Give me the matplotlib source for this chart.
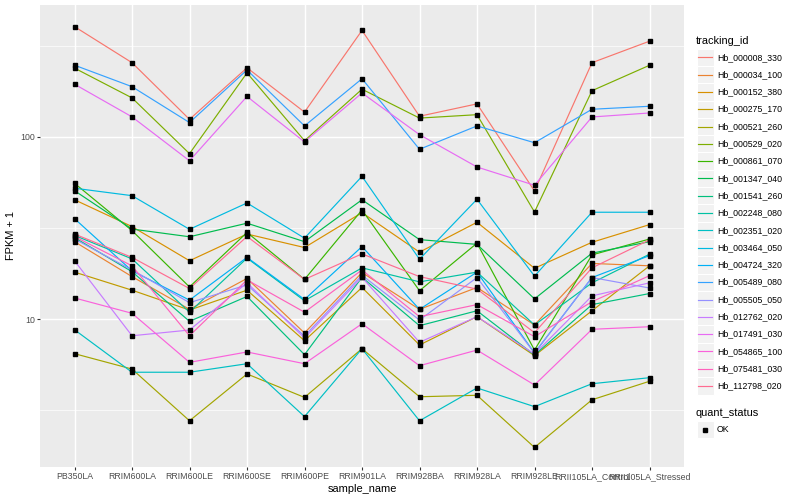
import matplotlib
matplotlib.use("Agg")
import matplotlib.pyplot as plt
from matplotlib.patches import Rectangle
from matplotlib.lines import Line2D

plt.rcParams['font.family'] = ['Liberation Sans', 'DejaVu Sans']

samples = ["PB350LA", "RRIM600LA", "RRIM600LE", "RRIM600SE", "RRIM600PE", "RRIM901LA",
           "RRIM928BA", "RRIM928LA", "RRIM928LE", "RRII105LA_Control", "RRII105LA_Stressed"]

tracking_ids = ["Hb_000008_330", "Hb_000034_100", "Hb_000152_380", "Hb_000275_170",
                "Hb_000521_260", "Hb_000529_020", "Hb_000861_070", "Hb_001347_040",
                "Hb_001541_260", "Hb_002248_080", "Hb_002351_020", "Hb_003464_050",
                "Hb_004724_320", "Hb_005489_080", "Hb_005505_050", "Hb_012762_020",
                "Hb_017491_030", "Hb_054865_100", "Hb_075481_030", "Hb_112798_020"]

colors = ["#F8766D", "#EA8331", "#D89000", "#C09B00", "#A3A500", "#7CAE00", "#39B600",
          "#00BB4E", "#00BF7D", "#00C1A3", "#00BFC4", "#00BAE0", "#00B0F6", "#35A2FF",
          "#9590FF", "#C77CFF", "#E76BF3", "#FA62DB", "#FF62BC", "#FF6C91"]

v01 = [404, 256, 125, 240, 137, 385, 130, 152, 50.5, 256, 336]
v02 = [26.6, 17.1, 11.3, 16.7, 8.38, 18.0, 11.3, 14.9, 9.27, 20.2, 19.6]
v03 = [45.2, 32.2, 20.9, 29.3, 24.7, 38.4, 23.3, 34.0, 19.0, 26.4, 33.0]
v04 = [18.1, 14.4, 11.2, 14.4, 7.6, 14.9, 7.2, 10.3, 6.29, 11.1, 19.6]
v05 = [6.45, 5.31, 2.76, 4.99, 3.71, 6.87, 3.74, 3.81, 1.97, 3.60, 4.55]
v06 = [239, 164, 81, 225, 95.4, 183, 127, 132.6, 38.7, 179.6, 247.7]
v07 = [55.7, 30.6, 15.0, 29.9, 16.5, 39.7, 14.3, 26.1, 6.75, 22.5, 27.5]
v08 = [50.7, 31.2, 28.3, 33.6, 26.6, 45.2, 27.3, 25.7, 12.9, 23.0, 26.6]
v09 = [28.0, 18.2, 9.71, 13.3, 6.37, 16.95, 9.19, 11.1, 6.34, 12.0, 13.8]
v10 = [28.8, 21.4, 10.9, 21.6, 12.6, 19.1, 16.0, 18.1, 9.27, 15.8, 22.7]
v11 = [8.73, 5.10, 5.10, 5.68, 2.91, 6.87, 2.76, 4.18, 3.30, 4.41, 4.76]
v12 = [52.3, 47.6, 31.1, 43.4, 27.8, 60.8, 21.3, 45.5, 17.2, 38.6, 38.6]
v13 = [35.6, 18.4, 12.7, 21.8, 12.8, 25.0, 11.3, 18.1, 6.50, 16.9, 22.3]
v14 = [248, 189, 120, 233.5, 115, 209, 85.6, 115, 93, 142, 147.5]
v15 = [27.5, 18.6, 12.3, 15.4, 8.06, 17.4, 9.87, 16.9, 6.50, 16.9, 14.8]
v16 = [20.9, 8.09, 8.7, 15.8, 7.87, 16.95, 7.45, 10.3, 6.42, 13.4, 15.8]
v17 = [195, 129, 74, 167, 93.9, 174.5, 103, 68.4, 54.3, 128.8, 135.5]
v18 = [13.05, 10.75, 5.78, 6.59, 5.68, 9.42, 5.54, 6.75, 4.34, 8.78, 9.07]
v19 = [28.4, 19.6, 8.09, 16.4, 10.9, 18.6, 10.3, 12.0, 8.0, 12.45, 17.3]
v20 = [29.3, 21.8, 14.7, 28.4, 16.5, 22.8, 17.1, 14.6, 8.41, 19.1, 27.2]

series = [v01, v02, v03, v04, v05, v06, v07, v08, v09, v10,
          v11, v12, v13, v14, v15, v16, v17, v18, v19, v20]

quant_status = ["OK"]

W, H = 800, 500
fig = plt.figure(figsize=(8, 5), dpi=100)
fig.patch.set_facecolor("white")

# panel in pixel coordinates
pl, pr, pt, pb = 40, 684, 5, 467
ax = fig.add_axes([pl / W, 1 - pb / H, (pr - pl) / W, (pb - pt) / H])
ax.set_facecolor("#EBEBEB")
for s in ax.spines.values():
    s.set_visible(False)

x = list(range(1, len(samples) + 1))
ax.set_yscale("log")
ax.set_xlim(0.4, len(samples) + 0.6)
ax.set_ylim(1.538, 531)

ax.set_yticks([10, 100])
ax.set_yticklabels(["10", "100"])
ax.set_yticks([10 ** 0.5, 10 ** 1.5, 10 ** 2.5], minor=True)
ax.set_yticklabels([], minor=True)
ax.set_xticks(x)
ax.set_xticklabels(samples)

ax.tick_params(axis="both", which="major", length=2.0, width=0.8, color="#333333",
               labelsize=6.3, labelcolor="#4D4D4D", pad=1.5)
ax.tick_params(axis="y", which="minor", length=0)
ax.grid(True, which="major", color="white", linewidth=1.05)
ax.grid(True, which="minor", axis="y", color="white", linewidth=0.5)
ax.set_axisbelow(True)

for vals, col in zip(series, colors):
    ax.plot(x, vals, color=col, linewidth=0.85, zorder=2)
for vals in series:
    ax.plot(x, vals, linestyle="none", marker="s", markersize=2.3,
            color="black", zorder=3)

ax.set_xlabel("sample_name", fontsize=7.9, color="black", labelpad=2)
ax.set_ylabel("FPKM + 1", fontsize=7.9, color="black", labelpad=3)

# legend overlay in pixel coordinates
lax = fig.add_axes([0, 0, 1, 1], facecolor="none")
lax.set_xlim(0, W)
lax.set_ylim(H, 0)
lax.axis("off")

lax.text(696, 40.5, "tracking_id", fontsize=7.9, va="center", ha="left", color="black")
step = 17.3
y0 = 57.3
for i, (tid, col) in enumerate(zip(tracking_ids, colors)):
    yc = y0 + i * step
    lax.add_patch(Rectangle((696.5, yc - step / 2), step, step, facecolor="#F2F2F2",
                            edgecolor="white", linewidth=0.8))
    lax.add_line(Line2D([698.2, 712.1], [yc, yc], color=col, linewidth=0.85))
    lax.text(717, yc, tid, fontsize=6.3, va="center", ha="left", color="black")

lax.text(696, 412.7, "quant_status", fontsize=7.9, va="center", ha="left", color="black")
yc = 429.5
lax.add_patch(Rectangle((696.5, yc - step / 2), step, step, facecolor="#F2F2F2",
                        edgecolor="white", linewidth=0.8))
lax.plot([705.1], [yc], marker="s", markersize=2.3, color="black", linestyle="none")
lax.text(717, yc, quant_status[0], fontsize=6.3, va="center", ha="left", color="black")

fig.savefig("out.png", dpi=100)
